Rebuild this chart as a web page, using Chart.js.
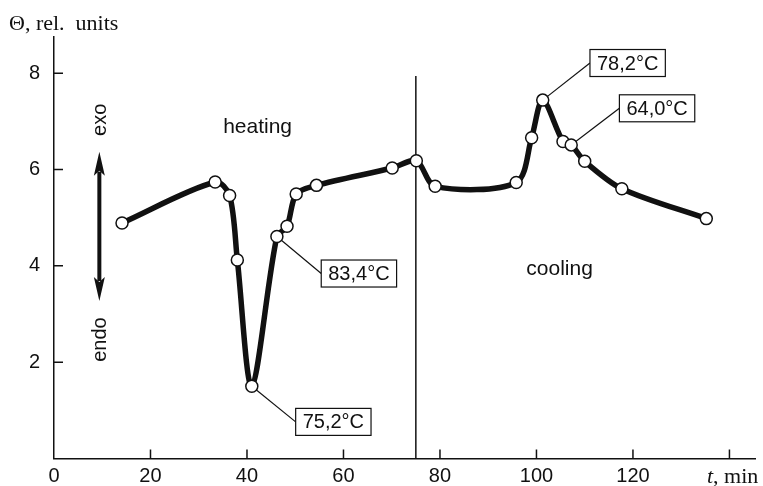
<!DOCTYPE html>
<html>
<head>
<meta charset="utf-8">
<script src="https://cdn.jsdelivr.net/npm/chart.js@4/dist/chart.umd.min.js"></script>
<style>
  html, body { margin: 0; padding: 0; background: #fff; }
  canvas { display: block; }
</style>
</head>
<body>
<canvas id="chart" width="763" height="486"></canvas>
<script>
// time, min
const tValues     = [14.1, 33.4, 36.4, 38.0, 41.0, 46.2, 48.3, 50.2, 54.4, 70.1, 75.1, 79.0, 95.8, 99.0, 101.3, 105.5, 107.2, 110.0, 117.7, 135.2];
// Θ, rel. units
const thetaValues = [4.89, 5.74, 5.46, 4.12, 1.50, 4.61, 4.82, 5.49, 5.67, 6.03, 6.18, 5.65, 5.73, 6.66, 7.44, 6.58, 6.51, 6.17, 5.60, 4.98];

const xTicks = [0, 20, 40, 60, 80, 100, 120, 140];
// the 140 slot carries the axis name instead of a number
const xTickLabels = ['0', '20', '40', '60', '80', '100', '120', ''];
const yTicks = [2, 4, 6, 8];

// heating / cooling boundary
const switchTime = 75;
const switchTop  = 7.94;

// temperature callouts: text, box centre (t, Θ), point index
const calloutText  = ['75,2°C', '83,4°C', '78,2°C', '64,0°C'];
const calloutT     = [57.9, 63.2, 118.9, 125.0];
const calloutTheta = [0.76, 3.84, 8.21, 7.27];
const calloutPoint = [4, 5, 14, 16];

const regionText  = ['heating', 'cooling'];
const regionT     = [42.2, 104.8];
const regionTheta = [6.88, 3.92];

const FONT = "'Liberation Sans', Arial, Helvetica, sans-serif";
const SERIF = "'Liberation Serif', 'Times New Roman', serif";
const INK = '#111';

const points = tValues.map((t, i) => ({ x: t, y: thetaValues[i] }));

const decorations = {
  id: 'decorations',
  beforeDatasetsDraw(chart) {
    const { ctx, chartArea, scales: { x, y } } = chart;
    ctx.save();
    ctx.strokeStyle = INK;
    ctx.fillStyle = INK;

    // inward tick marks
    ctx.lineWidth = 1.5;
    ctx.beginPath();
    xTicks.forEach(v => {
      if (v === 0) return;
      const px = x.getPixelForValue(v);
      ctx.moveTo(px, chartArea.bottom);
      ctx.lineTo(px, chartArea.bottom - 9);
    });
    yTicks.forEach(v => {
      const py = y.getPixelForValue(v);
      ctx.moveTo(chartArea.left, py);
      ctx.lineTo(chartArea.left + 9, py);
    });
    ctx.stroke();

    // exo / endo double arrow
    const ax = x.getPixelForValue(9.4);
    const aTop = y.getPixelForValue(6.37);
    const aBot = y.getPixelForValue(3.27);
    const head = 24, half = 5.5;
    ctx.lineWidth = 4;
    ctx.beginPath();
    ctx.moveTo(ax, aTop + head - 4);
    ctx.lineTo(ax, aBot - head + 4);
    ctx.stroke();
    ctx.beginPath();
    ctx.moveTo(ax, aTop);
    ctx.lineTo(ax + half, aTop + head);
    ctx.lineTo(ax, aTop + head - 5);
    ctx.lineTo(ax - half, aTop + head);
    ctx.closePath();
    ctx.moveTo(ax, aBot);
    ctx.lineTo(ax + half, aBot - head);
    ctx.lineTo(ax, aBot - head + 5);
    ctx.lineTo(ax - half, aBot - head);
    ctx.closePath();
    ctx.fill();

    ctx.font = `20px ${FONT}`;
    ctx.textAlign = 'center';
    ctx.textBaseline = 'middle';
    [['exo', 7.03], ['endo', 2.47]].forEach(([txt, v]) => {
      ctx.save();
      ctx.translate(x.getPixelForValue(9.6), y.getPixelForValue(v));
      ctx.rotate(-Math.PI / 2);
      ctx.fillText(txt, 0, 0);
      ctx.restore();
    });

    ctx.font = `21px ${FONT}`;
    regionText.forEach((txt, i) => {
      ctx.fillText(txt, x.getPixelForValue(regionT[i]), y.getPixelForValue(regionTheta[i]));
    });

    // leader lines
    ctx.font = `20px ${FONT}`;
    ctx.lineWidth = 1.2;
    calloutText.forEach((txt, i) => {
      const w = ctx.measureText(txt).width + 14;
      const cx = x.getPixelForValue(calloutT[i]);
      const cy = y.getPixelForValue(calloutTheta[i]);
      const p = points[calloutPoint[i]];
      ctx.beginPath();
      ctx.moveTo(x.getPixelForValue(p.x), y.getPixelForValue(p.y));
      ctx.lineTo(cx - w / 2, cy);
      ctx.stroke();
    });
    ctx.restore();
  },
  afterDatasetsDraw(chart) {
    const { ctx, scales: { x, y } } = chart;
    ctx.save();
    ctx.font = `20px ${FONT}`;
    ctx.textAlign = 'center';
    ctx.textBaseline = 'middle';
    ctx.lineWidth = 1.2;
    ctx.strokeStyle = INK;
    calloutText.forEach((txt, i) => {
      const w = ctx.measureText(txt).width + 14;
      const h = 27;
      const cx = x.getPixelForValue(calloutT[i]);
      const cy = y.getPixelForValue(calloutTheta[i]);
      ctx.fillStyle = '#fff';
      ctx.fillRect(cx - w / 2, cy - h / 2, w, h);
      ctx.strokeRect(cx - w / 2, cy - h / 2, w, h);
      ctx.fillStyle = INK;
      ctx.fillText(txt, cx, cy + 1);
    });
    ctx.restore();
  },
  afterDraw(chart) {
    const { ctx } = chart;
    ctx.save();
    ctx.fillStyle = INK;
    ctx.textBaseline = 'alphabetic';
    ctx.textAlign = 'left';
    ctx.font = `22px ${SERIF}`;
    ctx.fillText('Θ, rel.  units', 9, 30);
    ctx.font = `italic 22px ${SERIF}`;
    ctx.fillText('t', 707, 483);
    const tw = ctx.measureText('t').width;
    ctx.font = `22px ${SERIF}`;
    ctx.fillText(', min', 707 + tw, 483);
    ctx.restore();
  }
};

Chart.defaults.font.family = FONT;
Chart.defaults.color = INK;

new Chart(document.getElementById('chart'), {
  type: 'line',
  data: {
    datasets: [
      {
        data: points,
        borderColor: INK,
        borderWidth: 5.5,
        tension: 0.3,
        pointRadius: 6,
        pointBackgroundColor: '#fff',
        pointBorderColor: INK,
        pointBorderWidth: 1.5,
        order: 0
      },
      {
        data: [{ x: switchTime, y: 0 }, { x: switchTime, y: switchTop }],
        borderColor: INK,
        borderWidth: 1.5,
        pointRadius: 0,
        order: 1
      }
    ]
  },
  options: {
    responsive: false,
    devicePixelRatio: 1,
    animation: false,
    layout: { padding: { top: 37, left: 0, right: 0, bottom: 0 } },
    plugins: { legend: { display: false }, tooltip: { enabled: false } },
    scales: {
      x: {
        type: 'linear',
        min: 0,
        max: 145.4,
        afterBuildTicks: s => { s.ticks = xTicks.map(v => ({ value: v })); },
        afterFit: s => { s.height = 27.5; },
        grid: { display: false, drawTicks: false },
        border: { color: INK, width: 1.5 },
        ticks: {
          font: { size: 20 },
          padding: 6,
          maxRotation: 0,
          autoSkip: false,
          callback: v => xTickLabels[xTicks.indexOf(v)]
        }
      },
      y: {
        min: 0,
        max: 8.75,
        afterBuildTicks: s => { s.ticks = yTicks.map(v => ({ value: v })); },
        afterFit: s => { s.width = 54; },
        grid: { display: false, drawTicks: false },
        border: { color: INK, width: 1.5 },
        ticks: { font: { size: 20 }, padding: 14 }
      }
    }
  },
  plugins: [decorations]
});
</script>
</body>
</html>
